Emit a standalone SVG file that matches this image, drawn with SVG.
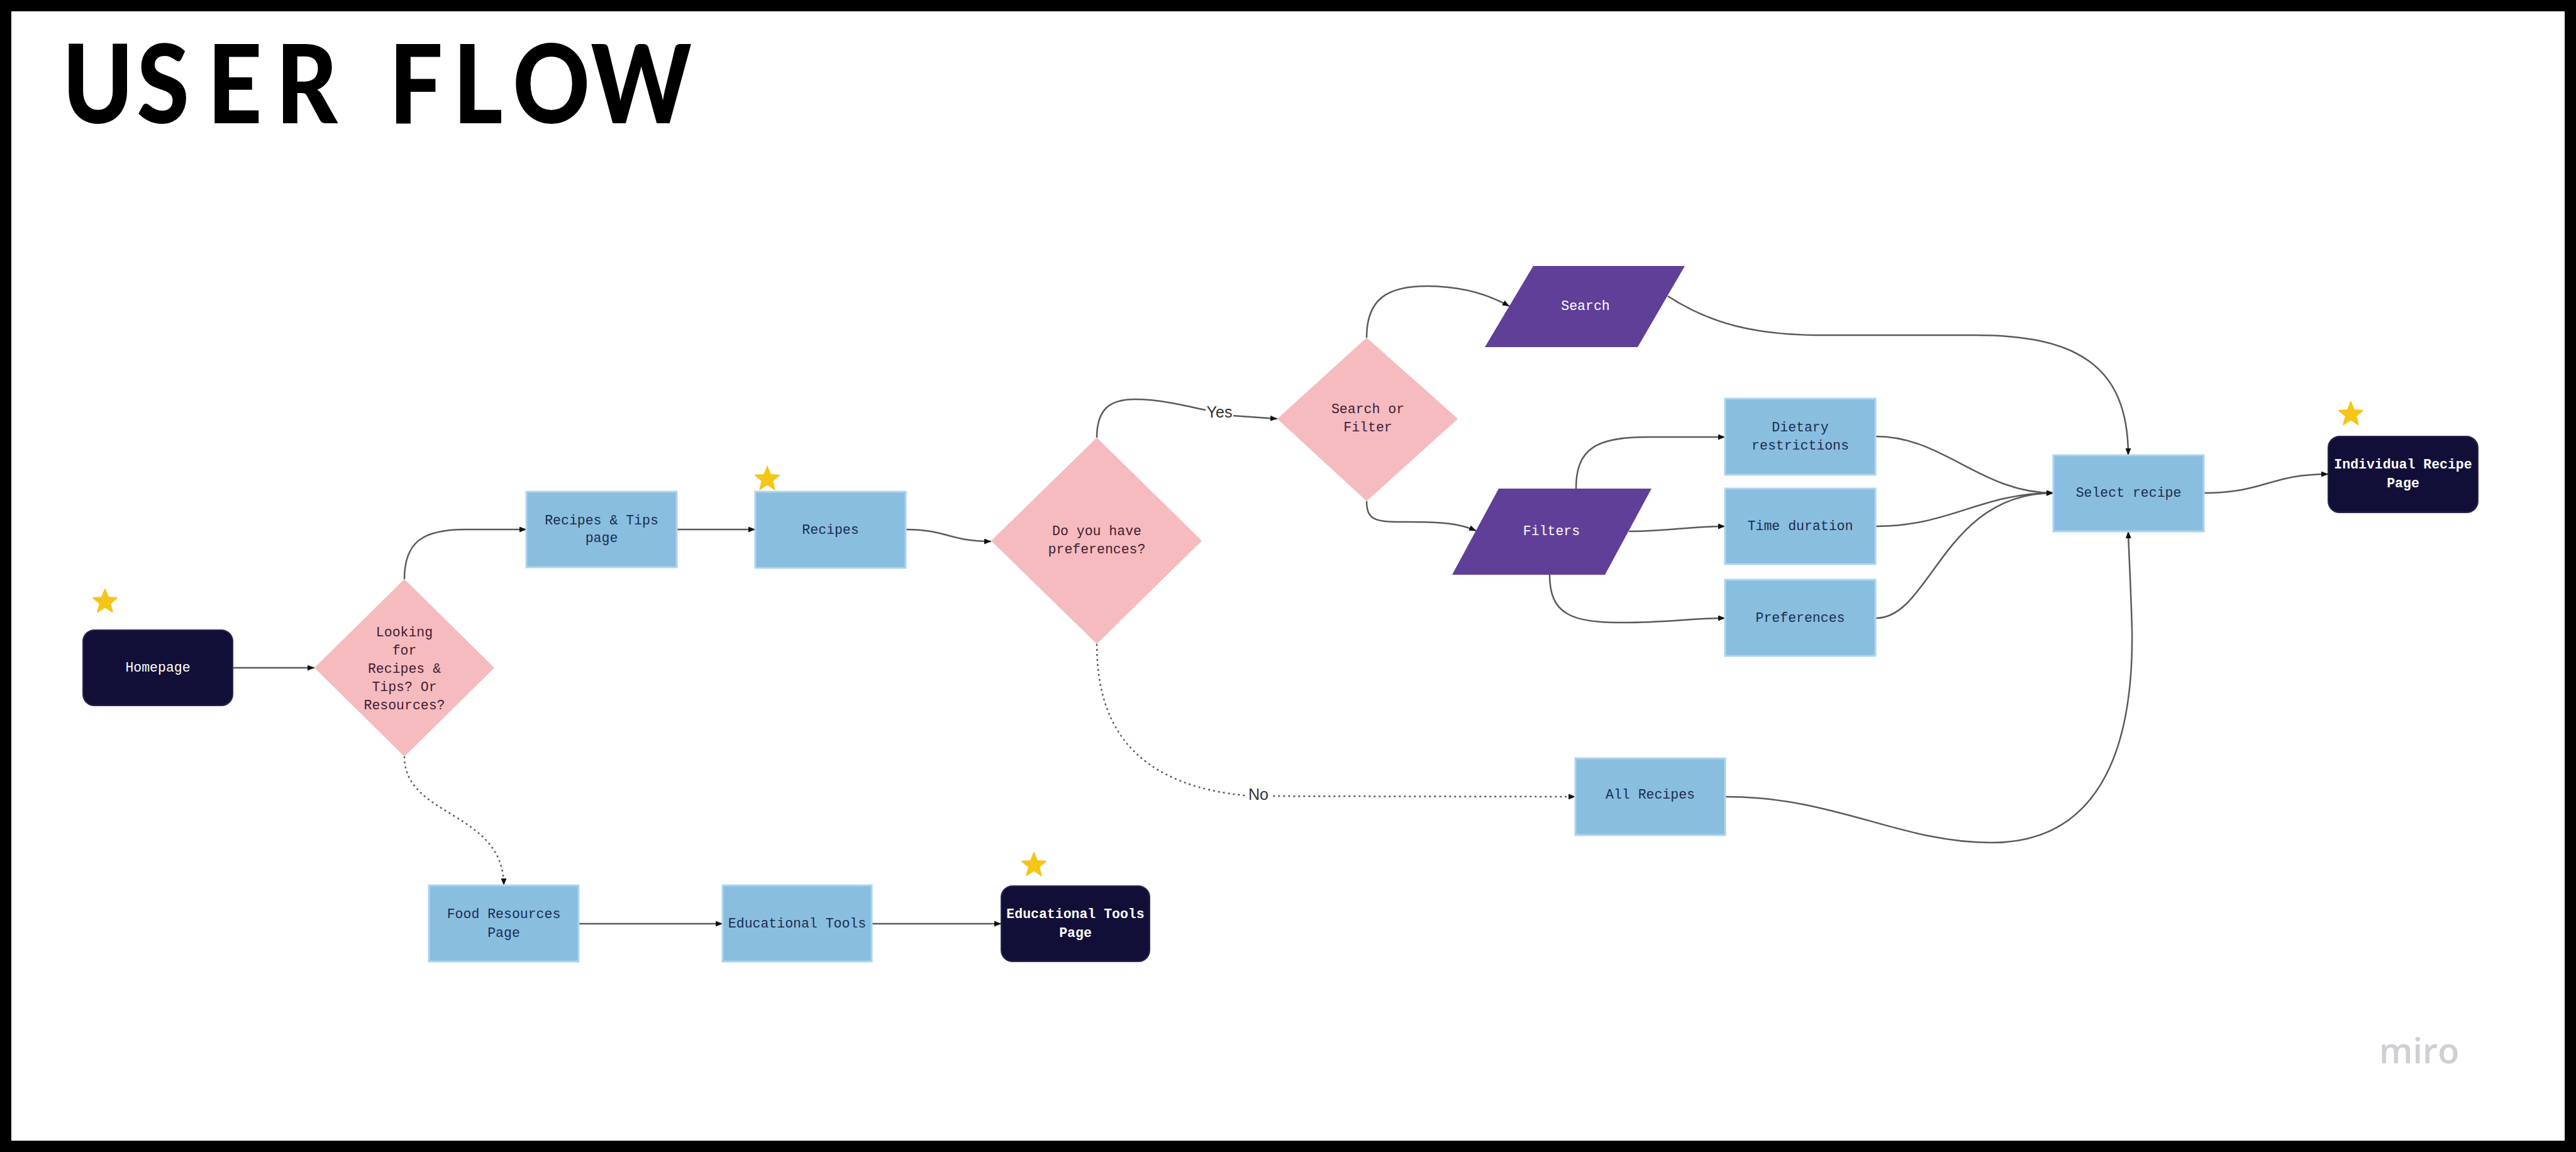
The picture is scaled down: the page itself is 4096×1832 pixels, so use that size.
<svg xmlns="http://www.w3.org/2000/svg" width="4096" height="1832" viewBox="0 0 4096 1832">
<style>
.frame{fill:#ffffff;stroke:#000000;stroke-width:18}
.title{font-family:Lato,"Noto Sans","Liberation Sans",sans-serif;font-weight:900;font-size:174px;fill:#000000}
.blue{fill:#89bedf;stroke:#acd5ef;stroke-width:3}
.dark{fill:#110f38;stroke:#2a2850;stroke-width:2}
.pink{fill:#f6bbbe}
.purple{fill:#603f98}
.t{font-family:"Liberation Mono","DejaVu Sans Mono",monospace;font-size:21.5px;text-anchor:middle;dominant-baseline:central}
.tb{fill:#1b2d52}
.tp{fill:#3d2035}
.tw{fill:#ffffff}
.bold{font-weight:700}
.edge{fill:none;stroke:#5a5a5a;stroke-width:2.5}
.dot{stroke-dasharray:3 5}
.lbl{font-family:"Liberation Sans",Arial,sans-serif;font-size:25px;fill:#333333;text-anchor:middle;dominant-baseline:central}
.star{fill:#f5c518;stroke:#f5c518;stroke-width:2;stroke-linejoin:round}
.miro{font-family:"Open Sans","Noto Sans",sans-serif;font-size:56px;fill:#cfcfd4;font-weight:600}
</style>
<defs>
<marker id="arr" markerUnits="userSpaceOnUse" markerWidth="12" markerHeight="9" refX="11" refY="4.5" orient="auto">
<path d="M0,0 L11,4.5 L0,9 Z" fill="#111111"/>
</marker>
<path id="star" class="star" d="M0,-20 L5,-6.88 L19.02,-6.18 L8.08,2.63 L11.76,16.18 L0,8.5 L-11.76,16.18 L-8.08,2.63 L-19.02,-6.18 L-5,-6.88 Z"/>
</defs>

<rect class="frame" x="9" y="9" width="4078" height="1814"/>
<text class="title" transform="translate(0,196) scale(0.87,1)" x="114 250 379 504 630 711 828 937 1080" y="0">USER FLOW</text>

<g id="connectors">
<path class="edge" marker-end="url(#arr)" d="M371,1062 L500,1062"/>
<path class="edge" marker-end="url(#arr)" d="M643,921 C643,862 672,842 740,842 L837,842"/>
<path class="edge" marker-end="url(#arr)" d="M1076,842 L1201,842"/>
<path class="edge" marker-end="url(#arr)" d="M1440,842 C1505,842 1510,861 1576,861"/>
<path class="edge" marker-end="url(#arr)" d="M1744,696 C1744,650 1765,635 1805,635 C1860,635 1920,655 1960,661 L2031,666"/>
<path class="edge dot" marker-end="url(#arr)" d="M1744,1024 C1744,1140 1790,1250 1990,1266 L2505,1267"/>
<path class="edge dot" marker-end="url(#arr)" d="M643,1203 C643,1300 801,1290 801,1408"/>
<path class="edge" marker-end="url(#arr)" d="M920,1469 L1149,1469"/>
<path class="edge" marker-end="url(#arr)" d="M1386,1469 L1592,1469"/>
<path class="edge" marker-end="url(#arr)" d="M2173,537 C2173,472 2210,455 2270,455 C2330,455 2370,470 2400,487"/>
<path class="edge" marker-end="url(#arr)" d="M2173,797 C2173,830 2190,830 2240,830 C2290,830 2320,832 2347,844"/>
<path class="edge" marker-end="url(#arr)" d="M2506,777 C2506,712 2540,695 2620,695 L2743,695"/>
<path class="edge" marker-end="url(#arr)" d="M2590,845 C2660,845 2680,837 2743,837"/>
<path class="edge" marker-end="url(#arr)" d="M2464,914 C2464,978 2500,990 2580,990 C2650,990 2690,983 2743,983"/>
<path class="edge" marker-end="url(#arr)" d="M2983,694 C3090,694 3150,784 3265,784"/>
<path class="edge" marker-end="url(#arr)" d="M2983,837 C3100,837 3150,784 3265,784"/>
<path class="edge" marker-end="url(#arr)" d="M2983,983 C3070,983 3090,784 3265,784"/>
<path class="edge" marker-end="url(#arr)" d="M2652,471 C2720,515 2790,533 2900,533 L3140,533 C3300,533 3384,580 3384,724"/>
<path class="edge" marker-end="url(#arr)" d="M2743,1267 C2920,1267 3020,1340 3166,1340 C3370,1340 3392,1130 3390,1000 C3388,930 3385,880 3384,845"/>
<path class="edge" marker-end="url(#arr)" d="M3504,784 C3600,784 3610,754 3702,754"/>
<rect x="1917" y="641" width="44" height="28" fill="#ffffff"/>
<text class="lbl" x="1939" y="655">Yes</text>
<rect x="1982" y="1249" width="38" height="28" fill="#ffffff"/>
<text class="lbl" x="2001" y="1263">No</text>
</g>

<g id="homepage">
<rect class="dark" x="132" y="1002" width="238" height="120" rx="18"/>
<text class="t tw" x="251" y="1062">Homepage</text>
<use href="#star" x="167" y="957"/>
</g>

<g id="looking-for">
<polygon class="pink" points="643,921 786,1062 643,1203 500,1062"/>
<text class="t tp" x="643" y="1006">Looking</text>
<text class="t tp" x="643" y="1035">for</text>
<text class="t tp" x="643" y="1064">Recipes &amp;</text>
<text class="t tp" x="643" y="1093">Tips? Or</text>
<text class="t tp" x="643" y="1122">Resources?</text>
</g>

<g id="recipes-tips-page">
<rect class="blue" x="837" y="782" width="239" height="120"/>
<text class="t tb" x="956.5" y="828">Recipes &amp; Tips</text>
<text class="t tb" x="956.5" y="856">page</text>
</g>

<g id="recipes">
<rect class="blue" x="1201" y="782" width="239" height="121"/>
<text class="t tb" x="1320.5" y="843">Recipes</text>
<use href="#star" x="1220" y="762"/>
</g>

<g id="preferences-question">
<polygon class="pink" points="1744,696 1911,860 1744,1024 1576,860"/>
<text class="t tp" x="1744" y="845">Do you have</text>
<text class="t tp" x="1744" y="874">preferences?</text>
</g>

<g id="search-or-filter">
<polygon class="pink" points="2173,537 2318,666 2173,797 2031,666"/>
<text class="t tp" x="2175" y="651">Search or</text>
<text class="t tp" x="2175" y="680">Filter</text>
</g>

<g id="search">
<polygon class="purple" points="2438,423 2679,423 2604,552 2361,552"/>
<text class="t tw" x="2521" y="487">Search</text>
</g>

<g id="filters">
<polygon class="purple" points="2383,777 2626,777 2552,914 2309,914"/>
<text class="t tw" x="2467" y="845">Filters</text>
</g>

<g id="dietary-restrictions">
<rect class="blue" x="2743" y="634" width="239" height="121"/>
<text class="t tb" x="2862.5" y="680">Dietary</text>
<text class="t tb" x="2862.5" y="709">restrictions</text>
</g>

<g id="time-duration">
<rect class="blue" x="2743" y="777" width="239" height="120"/>
<text class="t tb" x="2862.5" y="837">Time duration</text>
</g>

<g id="preferences">
<rect class="blue" x="2743" y="922" width="239" height="121"/>
<text class="t tb" x="2862.5" y="983">Preferences</text>
</g>

<g id="select-recipe">
<rect class="blue" x="3265" y="724" width="239" height="121"/>
<text class="t tb" x="3384.5" y="784">Select recipe</text>
</g>

<g id="individual-recipe-page">
<rect class="dark" x="3702" y="694" width="238" height="121" rx="18"/>
<text class="t tw bold" x="3821" y="739">Individual Recipe</text>
<text class="t tw bold" x="3821" y="769">Page</text>
<use href="#star" x="3738" y="659"/>
</g>

<g id="all-recipes">
<rect class="blue" x="2505" y="1206" width="238" height="122"/>
<text class="t tb" x="2624" y="1264">All Recipes</text>
</g>

<g id="food-resources-page">
<rect class="blue" x="682" y="1408" width="238" height="121"/>
<text class="t tb" x="801" y="1454">Food Resources</text>
<text class="t tb" x="801" y="1484">Page</text>
</g>

<g id="educational-tools">
<rect class="blue" x="1149" y="1408" width="237" height="121"/>
<text class="t tb" x="1267.5" y="1469">Educational Tools</text>
</g>

<g id="educational-tools-page">
<rect class="dark" x="1592" y="1409" width="236" height="120" rx="18"/>
<text class="t tw bold" x="1710" y="1454">Educational Tools</text>
<text class="t tw bold" x="1710" y="1484">Page</text>
<use href="#star" x="1644" y="1376"/>
</g>

<text class="miro" x="3783" y="1691">miro</text>
</svg>
